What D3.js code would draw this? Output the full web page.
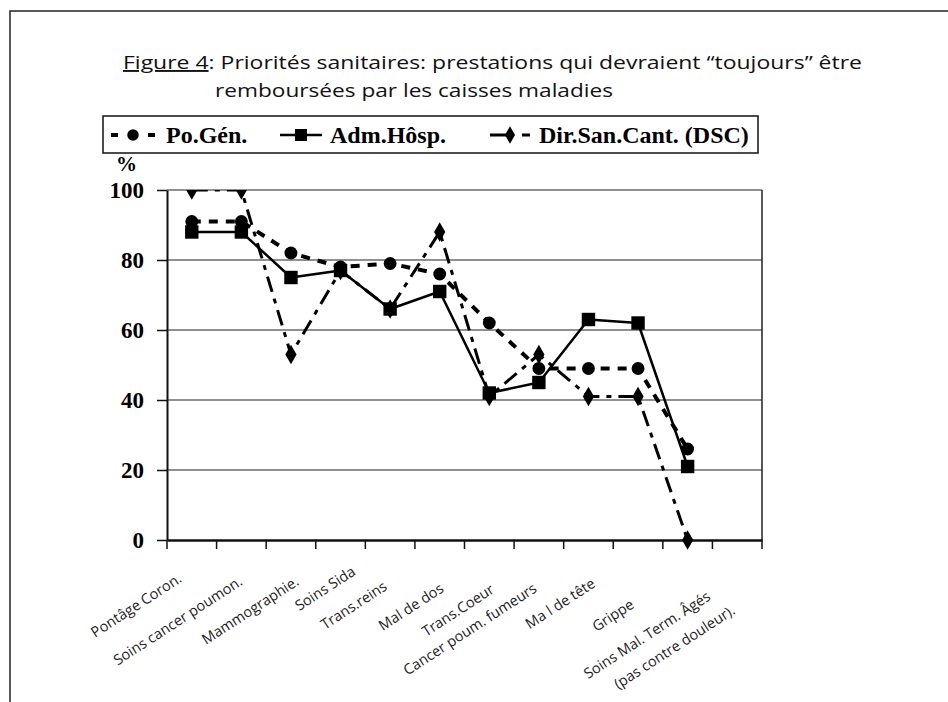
<!DOCTYPE html>
<html>
<head>
<meta charset="utf-8">
<script src="https://cdn.jsdelivr.net/npm/d3@7"></script>
<style>
  html, body { margin: 0; padding: 0; background: #fff; }
  svg { display: block; }
</style>
</head>
<body>
<svg id="chart" width="948" height="702"></svg>
<script>
// ---------------- DATA ----------------
const categories = [
  "Pontâge Coron.",
  "Soins cancer poumon.",
  "Mammographie.",
  "Soins Sida",
  "Trans.reins",
  "Mal de dos",
  "Trans.Coeur",
  "Cancer poum. fumeurs",
  "Ma l de tête",
  "Grippe",
  "Soins Mal. Term. Âgés|(pas contre douleur).",
  ""
];
const seriesNames = ["Po.Gén.", "Adm.Hôsp.", "Dir.San.Cant. (DSC)"];
const popGen  = [91, 91, 82, 78, 79, 76, 62, 49, 49, 49, 26, null];
const admHosp = [88, 88, 75, 77, 66, 71, 42, 45, 63, 62, 21, null];
const dirSan  = [100, 100, 53, 77, 66, 88, 41, 53, 41, 41, 0, null];
const yTicks  = [0, 20, 40, 60, 80, 100];
const titleLine1Prefix = "Figure 4";
const titleLine1Rest = ": Priorités sanitaires: prestations qui devraient “toujours” être";
const titleLine2 = "remboursées par les caisses maladies";
const yUnit = "%";

// ---------------- LAYOUT ----------------
const plot = { left: 167, right: 762, top: 190, bottom: 540 };
// per-label nudges for the rotated category labels [dx from band centre, baseline y]
const labelNudge = [[-9,581],[2,584],[9,584],[16,574],[-2,589],[5,591],[6,592],[-1,591],[8,586],[-3,607],[24,599],[0,590]];
const labelAngle = -33;

const svg = d3.select("#chart");

// outer frame (left and top edges visible)
svg.append("path")
  .attr("d", "M10,702 L10,11 L948,11")
  .attr("fill", "none").attr("stroke", "#222").attr("stroke-width", 1.5);

// ---------------- SCALES ----------------
const x = d3.scaleBand().domain(d3.range(categories.length)).range([plot.left, plot.right]).paddingInner(0).paddingOuter(0);
const y = d3.scaleLinear().domain([0, 100]).range([plot.bottom, plot.top]);
const cx = i => x(i) + x.bandwidth() / 2;

// ---------------- TITLE ----------------
const t1 = svg.append("text")
  .attr("x", 123).attr("y", 69)
  .attr("font-family", "'Open Sans', sans-serif")
  .attr("font-size", 19)
  .attr("fill", "#111")
  .attr("textLength", 739).attr("lengthAdjust", "spacingAndGlyphs");
t1.append("tspan").attr("text-decoration", "underline").text(titleLine1Prefix);
t1.append("tspan").text(titleLine1Rest);

svg.append("text")
  .attr("x", 215).attr("y", 97)
  .attr("font-family", "'Open Sans', sans-serif")
  .attr("font-size", 19)
  .attr("fill", "#111")
  .attr("textLength", 398).attr("lengthAdjust", "spacingAndGlyphs")
  .text(titleLine2);

// ---------------- GRID ----------------
svg.append("g").selectAll("line")
  .data(yTicks.filter(d => d > 0))
  .join("line")
  .attr("x1", plot.left).attr("x2", plot.right)
  .attr("y1", d => y(d)).attr("y2", d => y(d))
  .attr("stroke", "#222").attr("stroke-width", 1.2);

// right plot border
svg.append("line")
  .attr("x1", plot.right).attr("x2", plot.right)
  .attr("y1", plot.top).attr("y2", plot.bottom)
  .attr("stroke", "#222").attr("stroke-width", 1.5);

// ---------------- Y AXIS ----------------
const yAxis = svg.append("g")
  .attr("transform", `translate(${plot.left},0)`)
  .call(d3.axisLeft(y).tickValues(yTicks).tickSize(10).tickPadding(13).tickSizeOuter(0));
yAxis.select(".domain").attr("stroke", "#111").attr("stroke-width", 2);
yAxis.selectAll(".tick line").attr("stroke", "#111").attr("stroke-width", 1.5);
yAxis.selectAll(".tick text")
  .attr("font-family", "'Liberation Serif', 'Times New Roman', serif")
  .attr("font-weight", "bold").attr("font-size", 23).attr("fill", "#000");

svg.append("text")
  .attr("x", 116).attr("y", 171)
  .attr("font-family", "'Liberation Serif', 'Times New Roman', serif")
  .attr("font-weight", "bold").attr("font-size", 21)
  .text(yUnit);

// ---------------- X AXIS ----------------
const xAxis = svg.append("g")
  .attr("transform", `translate(0,${plot.bottom})`)
  .call(d3.axisBottom(x).tickSize(0).tickFormat(""));
xAxis.select(".domain").attr("stroke", "#111").attr("stroke-width", 2.5);
xAxis.selectAll(".tick").remove();
const boundaries = d3.range(categories.length).map(i => x(i)).concat([plot.right]);
svg.append("g").selectAll("line")
  .data(boundaries)
  .join("line")
  .attr("x1", d => d).attr("x2", d => d)
  .attr("y1", plot.bottom).attr("y2", plot.bottom + 9)
  .attr("stroke", "#111").attr("stroke-width", 1.5);

// category labels
const lab = svg.append("g").selectAll("text")
  .data(categories.map((c, i) => ({ c, i })))
  .join("text")
  .attr("transform", d => `translate(${cx(d.i) + labelNudge[d.i][0]},${labelNudge[d.i][1]}) rotate(${labelAngle})`)
  .attr("text-anchor", "end")
  .attr("font-family", "'Open Sans', sans-serif")
  .attr("font-size", 14.5)
  .attr("fill", "#222");
lab.each(function(d) {
  const parts = d.c.split("|");
  const sel = d3.select(this);
  parts.forEach((p, k) => {
    sel.append("tspan").attr("x", k === 0 ? 0 : 13).attr("dy", k === 0 ? 0 : 25).text(p);
  });
});

// ---------------- SERIES ----------------
const series = [
  { name: seriesNames[0], values: popGen,  dash: "9,8",        width: 4,   marker: "circle" },
  { name: seriesNames[1], values: admHosp, dash: null,         width: 2.5, marker: "square" },
  { name: seriesNames[2], values: dirSan,  dash: "16,7,5,7",   width: 3,   marker: "diamond" }
];

svg.append("defs").append("clipPath").attr("id", "plotclip")
  .append("rect").attr("x", plot.left - 20).attr("y", plot.top)
  .attr("width", plot.right - plot.left + 40).attr("height", plot.bottom - plot.top + 20);

const symbolType = { circle: d3.symbolCircle, square: d3.symbolSquare, diamond: d3.symbolDiamond };
const symbolSize = { circle: 130, square: 180, diamond: 110 };

const line = d3.line()
  .defined(d => d.v !== null)
  .x(d => cx(d.i))
  .y(d => y(d.v));

const sg = svg.append("g").attr("clip-path", "url(#plotclip)");
series.forEach(s => {
  const pts = s.values.map((v, i) => ({ v, i }));
  sg.append("path")
    .datum(pts)
    .attr("d", line)
    .attr("fill", "none")
    .attr("stroke", "#000")
    .attr("stroke-width", s.width)
    .attr("stroke-dasharray", s.dash)
    .attr("stroke-linejoin", "round");
  sg.append("g").selectAll("path")
    .data(pts.filter(d => d.v !== null))
    .join("path")
    .attr("transform", d => `translate(${cx(d.i)},${y(d.v)})`)
    .attr("d", d3.symbol().type(symbolType[s.marker]).size(symbolSize[s.marker]))
    .attr("fill", "#000");
});

// ---------------- LEGEND ----------------
const lg = svg.append("g");
lg.append("rect")
  .attr("x", 103).attr("y", 116).attr("width", 655).attr("height", 37)
  .attr("fill", "#fff").attr("stroke", "#111").attr("stroke-width", 1.5);
const legendItems = [
  { s: series[0], x0: 111, x1: 155, tx: 166, dash: "7,30,7" },
  { s: series[1], x0: 280, x1: 322, tx: 330, dash: null },
  { s: series[2], x0: 490, x1: 530, tx: 539, dash: "20,4,0,8,8" }
];
const ly = 135;
legendItems.forEach(it => {
  lg.append("line")
    .attr("x1", it.x0).attr("x2", it.x1).attr("y1", ly).attr("y2", ly)
    .attr("stroke", "#000").attr("stroke-width", it.s.width)
    .attr("stroke-dasharray", it.dash);
  lg.append("path")
    .attr("transform", `translate(${(it.x0 + it.x1) / 2},${ly})`)
    .attr("d", d3.symbol().type(symbolType[it.s.marker]).size(symbolSize[it.s.marker] * 0.8))
    .attr("fill", "#000");
  lg.append("text")
    .attr("x", it.tx).attr("y", ly + 8)
    .attr("font-family", "'Liberation Serif', 'Times New Roman', serif")
    .attr("font-weight", "bold").attr("font-size", 24)
    .text(it.s.name);
});
</script>
</body>
</html>
